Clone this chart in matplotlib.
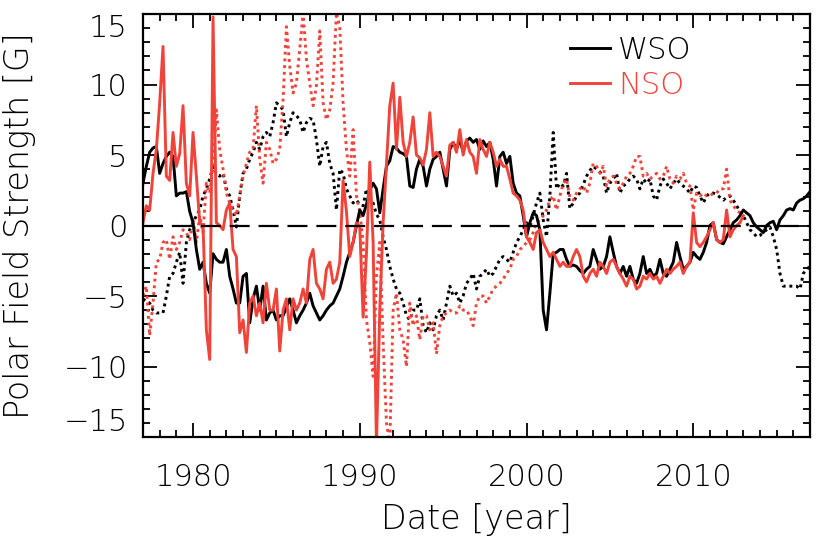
import numpy as np
import matplotlib
matplotlib.use("Agg")
import matplotlib.pyplot as plt
from matplotlib.ticker import MultipleLocator

# time grids (0.2 yr sampling)
years_wso = np.round(np.arange(1977.0, 2017.01, 0.2), 2)
years_nso = np.round(np.arange(1977.0, 2013.01, 0.2), 2)

# WSO north pole (solid black)
wso_north = [
    3.0, 4.2, 5.2, 5.5, 5.6, 3.7, 4.4, 4.9, 5.2, 4.9,
    2.1, 2.3, 2.3, 2.4, 1.0, 0.2, -1.7, -3.1, -2.6, -4.1,
    -4.8, -2.0, -2.4, -2.6, -2.6, -1.7, -3.6, -4.5, -5.5, -5.5,
    -3.6, -3.4, -6.9, -5.2, -4.3, -6.0, -4.3, -6.7, -6.2, -6.0,
    -6.7, -6.4, -6.4, -5.8, -5.2, -6.0, -6.9, -6.4, -6.0, -5.5,
    -4.8, -5.7, -6.2, -6.7, -6.4, -6.0, -5.7, -5.5, -5.0, -4.5,
    -3.6, -2.6, -1.9, -1.2, 0.0, 1.1, 0.7, 1.5, 2.5, 3.0,
    2.6, 0.9, 2.6, 4.2, 4.6, 5.6, 5.5, 5.2, 5.1, 4.9,
    2.8, 2.7, 4.0, 4.7, 4.2, 2.8, 4.0, 4.7, 4.9, 5.2,
    4.0, 2.8, 5.4, 5.9, 5.4, 6.1, 5.2, 6.0, 6.2, 5.9,
    6.1, 5.4, 6.0, 5.6, 5.9, 4.7, 2.8, 4.9, 5.2, 4.4,
    4.9, 3.0, 2.3, 2.1, 0.7, -0.8, 0.2, 0.9, 0.7, -0.3,
    -6.0, -7.4, -4.8, -2.0, -1.9, -1.7, -1.7, -2.4, -2.9, -2.8,
    -2.9, -3.2, -3.4, -3.1, -2.9, -1.7, -2.4, -3.1, -2.9, -2.2,
    -0.8, -1.9, -2.9, -3.4, -2.9, -3.6, -2.9, -3.8, -4.1, -3.4,
    -2.2, -3.4, -3.1, -3.6, -3.4, -2.4, -3.4, -3.6, -3.1, -2.6,
    -1.2, -2.2, -3.1, -2.9, -2.6, -1.9, -2.2, -2.4, -1.9, -1.2,
    0.0, 0.2, -1.0, -1.2, -1.3, -0.8, -0.3, 0.2, 0.4, 0.7,
    1.1, 0.9, 0.7, 0.2, -0.1, -0.3, -0.5, 0.0, 0.2, 0.3,
    -0.3, 0.4, 0.7, 1.1, 1.2, 1.1, 1.6, 1.8, 1.9, 2.1,
    2.4,
]

# WSO south pole (dotted black)
wso_south = [
    -5.2, -5.4, -5.5, -6.0, -6.2, -6.2, -6.2, -5.0, -3.6, -3.4,
    -2.6, -1.9, -4.1, -1.2, -0.3, 0.2, 0.7, 1.1, 2.1, 2.6,
    3.3, 4.2, 3.7, 3.5, 3.7, 2.6, 2.1, 1.1, -0.1, 2.1,
    3.7, 4.0, 4.7, 5.2, 5.9, 5.4, 6.3, 6.6, 6.3, 7.3,
    8.7, 8.5, 8.2, 6.3, 7.3, 8.0, 7.8, 7.5, 6.6, 7.3,
    7.6, 7.5, 6.1, 4.2, 5.6, 5.9, 4.4, 3.7, 1.1, 4.0,
    3.7, 2.6, 2.1, 1.6, 1.8, 1.5, 1.4, 2.6, 2.0, 1.6,
    0.8, 0.4, -0.8, -1.7, -2.9, -3.8, -4.5, -4.8, -5.5, -6.4,
    -6.7, -6.0, -6.0, -5.2, -7.1, -7.6, -6.9, -7.4, -6.4, -6.0,
    -6.7, -5.5, -4.3, -5.0, -4.8, -5.5, -5.0, -4.1, -3.8, -3.4,
    -4.5, -3.6, -3.4, -3.1, -3.6, -3.4, -2.9, -2.4, -2.2, -2.4,
    -2.6, -1.9, -1.2, -0.8, -0.3, 0.2, -0.1, 0.7, 1.6, 2.3,
    0.4, -0.8, 2.1, 6.6, 2.6, 3.0, 2.8, 3.7, 1.2, 1.6,
    2.1, 2.3, 2.9, 3.5, 3.9, 4.2, 4.0, 3.8, 3.5, 2.3,
    3.0, 3.3, 3.7, 2.3, 2.8, 3.0, 3.3, 3.5, 3.3, 2.6,
    3.3, 3.0, 3.3, 2.1, 1.8, 2.8, 3.3, 3.0, 2.6, 3.0,
    3.3, 3.0, 2.8, 2.6, 2.3, 2.8, 2.7, 2.1, 1.6, 2.1,
    2.3, 2.3, 2.2, 2.0, 1.8, 2.0, 2.1, 1.8, 1.4, 1.0,
    0.7, 0.2, -0.3, -0.5, -0.8, -0.7, -0.5, -0.3, -0.1, -0.8,
    -1.7, -3.4, -4.3, -4.3, -4.3, -4.3, -4.3, -4.5, -3.4, -3.1,
    -2.9,
]

# NSO north pole (solid red)
nso_north = [
    0.2, 1.4, 1.1, 3.7, 5.4, 8.7, 12.7, 3.5, 3.2, 6.6,
    4.2, 5.1, 8.5, 3.0, 2.1, 6.6, 3.5, 0.2, 0.0, -7.4,
    -9.5, 14.8, 0.2, 0.0, -0.3, 1.1, 1.6, -1.7, -2.2, -7.6,
    -6.7, -9.0, -5.5, -5.0, -6.4, -5.5, -6.9, -4.1, -6.0, -6.0,
    -4.5, -8.9, -6.0, -5.2, -7.4, -5.2, -6.0, -5.5, -4.5, -5.5,
    -2.4, -1.7, -4.1, -4.5, -5.2, -3.1, -2.6, -4.1, -3.8, -2.6,
    3.2, 1.0, -2.2, -1.2, 0.2, -0.1, -6.5, -2.0, 4.5, -1.2,
    -15.5, -6.0, 0.2, 4.4, 8.5, 10.1, 5.4, 9.1, 5.9, 4.9,
    5.9, 7.7, 5.0, 4.8, 4.3, 5.4, 8.0, 4.9, 5.2, 4.9,
    4.2, 3.5, 5.7, 5.9, 5.2, 6.8, 5.0, 6.1, 5.2, 4.9,
    3.7, 6.1, 5.4, 4.9, 5.9, 5.2, 4.2, 4.7, 4.2, 4.2,
    3.3, 2.3, 2.1, 1.8, 1.1, -0.8, -1.2, -1.7, -0.5, -0.3,
    -1.2, -1.7, -2.2, -1.9, -2.4, -2.9, -2.6, -2.9, -2.9, -2.2,
    -1.7, -2.2, -3.6, -4.0, -3.4, -3.1, -3.6, -2.6, -2.9, -3.4,
    -2.6, -2.4, -2.9, -3.4, -3.8, -4.3, -3.6, -3.8, -4.5, -4.3,
    -3.6, -3.8, -3.4, -3.8, -3.6, -4.1, -3.6, -3.1, -3.4, -3.1,
    -2.9, -2.6, -3.4, -2.9, -2.6, 0.9, -1.2, -1.5, -1.2, -0.8,
    -0.3, 0.2, -1.0, -1.2, -1.0, 1.1, -0.8, -0.3, 0.0, 0.2,
    0.7,
]

# NSO south pole (dotted red)
nso_south = [
    -5.0, -4.3, -7.8, -5.5, -2.6, -2.4, -1.2, -1.0, -2.4, -0.8,
    -1.7, -1.2, -0.3, -0.5, -1.0, 0.4, -1.2, 0.7, -0.5, 3.0,
    2.3, 4.2, 8.2, 5.4, 4.0, 2.3, 1.6, 1.1, 0.7, 2.1,
    3.5, 4.4, 5.2, 5.4, 8.5, 4.7, 3.0, 5.9, 5.4, 4.4,
    4.7, 5.4, 8.9, 14.1, 11.3, 9.4, 10.1, 12.5, 15.1, 11.8,
    10.1, 8.5, 9.9, 13.8, 8.7, 7.5, 8.2, 10.1, 15.1, 14.1,
    8.7, 5.4, 3.5, 6.8, 2.1, 1.0, -1.2, -6.7, -8.3, -10.7,
    -3.6, -1.2, -8.3, -14.0, -15.5, -6.0, -4.8, -7.4, -8.1, -10.0,
    -5.5, -7.1, -6.4, -8.1, -6.4, -6.4, -7.4, -6.9, -9.1, -7.1,
    -6.4, -6.2, -6.0, -6.2, -6.2, -5.7, -6.0, -6.0, -6.4, -7.1,
    -5.5, -5.0, -5.0, -5.5, -5.0, -4.5, -4.3, -4.1, -3.8, -3.4,
    -3.1, -2.4, -2.2, -1.7, -1.5, -1.2, -1.0, -0.5, 0.2, 0.4,
    0.7, 1.1, 1.8, 2.1, 1.1, 2.1, 3.0, 3.3, 2.0, 1.8,
    2.3, 2.6, 2.8, 2.3, 3.0, 4.4, 4.2, 3.7, 4.2, 2.8,
    3.3, 3.5, 3.0, 2.6, 3.0, 3.5, 3.7, 4.2, 4.9, 4.9,
    3.5, 3.7, 3.3, 3.5, 3.7, 3.3, 3.5, 4.2, 3.3, 3.0,
    3.5, 3.3, 3.7, 3.0, 2.8, 1.1, 2.3, 2.1, 2.3, 2.1,
    2.1, 2.3, 2.3, 2.6, 2.6, 4.0, 1.8, 1.4, 1.1, 0.9,
    0.7,
]

RED = "#F0443A"
FS = 22      # tick labels / legend
FS_LAB = 24  # axis titles

plt.rcParams["font.family"] = ["DejaVu Sans"]
plt.rcParams["font.weight"] = "light"
plt.rcParams["axes.labelweight"] = "light"

fig = plt.figure(figsize=(8.3, 5.52), dpi=100)
ax = fig.add_axes([0.1723, 0.2083, 0.8036, 0.7663])

dot = (0, (1, 1.3))
ax.plot(years_wso, wso_south, color="black", lw=2.1, ls=dot)
ax.plot(years_nso, nso_south, color=RED, lw=2.1, ls=dot)
l1, = ax.plot(years_wso, wso_north, color="black", lw=2.1, label="WSO")
l2, = ax.plot(years_nso, nso_north, color=RED, lw=2.1, label="NSO")
ax.axhline(0, color="black", lw=1.6, ls=(0, (9, 4)))

ax.set_xlim(1977, 2017)
ax.set_ylim(-15, 15)
ax.xaxis.set_major_locator(MultipleLocator(10))
ax.xaxis.set_minor_locator(MultipleLocator(1))
ax.yaxis.set_major_locator(MultipleLocator(5))
ax.yaxis.set_minor_locator(MultipleLocator(1))
ax.tick_params(which="both", direction="in", top=True, right=True,
               labelsize=FS, width=1.3)
ax.tick_params(which="major", length=10)
ax.tick_params(which="minor", length=5)
ax.tick_params(axis="x", which="major", pad=19)
ax.tick_params(axis="y", which="major", pad=11)
for s in ax.spines.values():
    s.set_linewidth(1.6)

# keep edge labels inside the frame like the original
fig.canvas.draw()
for lab in ax.get_yticklabels():
    if lab.get_text() == "15":
        lab.set_verticalalignment("top")
    elif lab.get_text() in ("\u221215", "-15"):
        lab.set_verticalalignment("bottom")

ax.set_xlabel("Date [year]", fontsize=FS_LAB, fontweight="light")
ax.set_ylabel("Polar Field Strength [G]", fontsize=FS_LAB, fontweight="light")
ax.xaxis.set_label_coords(0.5, -0.155)
ax.yaxis.set_label_coords(-0.16, 0.5)
ax.xaxis.label.set_va("top")
ax.yaxis.label.set_va("bottom")

leg = ax.legend(handles=[l1, l2], loc="upper left",
                bbox_to_anchor=(0.618, 0.985), frameon=False, fontsize=FS,
                handlelength=1.3, handletextpad=0.25, labelspacing=0.2,
                borderpad=0)
for t, c in zip(leg.get_texts(), ["black", RED]):
    t.set_color(c)

fig.savefig("out.png", dpi=100, facecolor="white")
